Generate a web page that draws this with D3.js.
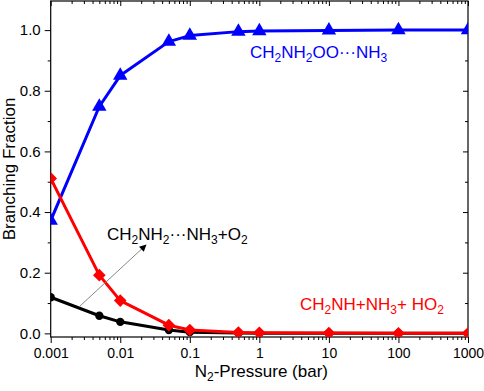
<!DOCTYPE html>
<html>
<head>
<meta charset="utf-8">
<script src="https://cdn.jsdelivr.net/npm/d3@7"></script>
<style>
  html, body { margin: 0; padding: 0; background: #fff; }
  svg { display: block; font-family: "Liberation Sans", Arial, sans-serif; }
</style>
</head>
<body>
<svg id="chart" width="484" height="391"></svg>
<script>
// ---- data ----
const pressures = [0.001, 0.005, 0.01, 0.05, 0.1, 0.5, 1, 10, 100, 1000];
const adductFraction = [0.372, 0.748, 0.850, 0.962, 0.982, 0.995, 0.997, 0.999, 1.0, 1.0];
const imineFraction = [0.511, 0.192, 0.108, 0.027, 0.011, 0.003, 0.002, 0.001, 0.0005, 0.0];
const complexFraction = [0.119, 0.058, 0.038, 0.011, 0.004, 0.001, 0.0005, 0.0, 0.0, 0.0];
const xTickValues = [0.001, 0.01, 0.1, 1, 10, 100, 1000];
const xTickLabels = ["0.001", "0.01", "0.1", "1", "10", "100", "1000"];
const yTickValues = [0.0, 0.2, 0.4, 0.6, 0.8, 1.0];
const yTickLabels = ["0.0", "0.2", "0.4", "0.6", "0.8", "1.0"];

const svg = d3.select("#chart");
const L = 50.7, R = 468, T = 1, B = 337;

const x = d3.scaleLog().domain([0.001, 1000]).range([L, R]);
const y = d3.scaleLinear().domain([-0.012, 1.096]).range([B, T]);

// minor ticks
const xMinor = [];
for (let e = -3; e < 3; e++) for (let k = 2; k <= 9; k++) xMinor.push(k * Math.pow(10, e));
const yMinor = [0.1, 0.3, 0.5, 0.7, 0.9];

const fmtMap = v => xTickLabels[xTickValues.indexOf(v)];
const yFmt = v => yTickLabels[yTickValues.findIndex(t => Math.abs(t - v) < 1e-9)];

function tickOnly(g) { g.selectAll(".tick text").remove(); g.select(".domain").remove(); }

// bottom axis (outward)
svg.append("g").attr("transform", `translate(0,${B})`)
   .call(d3.axisBottom(x).tickValues(xMinor).tickSize(3)).call(tickOnly);
const gBx = svg.append("g").attr("transform", `translate(0,${B})`)
   .call(d3.axisBottom(x).tickValues(xTickValues).tickSize(6).tickPadding(5).tickFormat(fmtMap));
// top axis (inward)
svg.append("g").attr("transform", `translate(0,${T})`)
   .call(d3.axisBottom(x).tickValues(xMinor).tickSize(3)).call(tickOnly);
svg.append("g").attr("transform", `translate(0,${T})`)
   .call(d3.axisBottom(x).tickValues(xTickValues).tickSize(5)).call(tickOnly);
// left axis (outward)
svg.append("g").attr("transform", `translate(${L},0)`)
   .call(d3.axisLeft(y).tickValues(yMinor).tickSize(3)).call(tickOnly);
const gLy = svg.append("g").attr("transform", `translate(${L},0)`)
   .call(d3.axisLeft(y).tickValues(yTickValues).tickSize(6).tickPadding(4).tickFormat(yFmt));
// right axis (inward)
svg.append("g").attr("transform", `translate(${R},0)`)
   .call(d3.axisLeft(y).tickValues(yMinor).tickSize(3)).call(tickOnly);
svg.append("g").attr("transform", `translate(${R},0)`)
   .call(d3.axisLeft(y).tickValues(yTickValues).tickSize(5)).call(tickOnly);

svg.selectAll(".domain").remove();
svg.selectAll(".tick line").attr("stroke", "#000").attr("stroke-width", 1);
svg.selectAll(".tick text").attr("fill", "#000")
   .attr("font-family", "'Liberation Sans', Arial, sans-serif");
gBx.selectAll(".tick text").attr("font-size", 14);
gLy.selectAll(".tick text").attr("font-size", 15);

// frame
svg.append("rect").attr("x", L).attr("y", T).attr("width", R - L).attr("height", B - T)
   .attr("fill", "none").attr("stroke", "#000").attr("stroke-width", 1.2);

// clip
svg.append("clipPath").attr("id", "clip").append("rect")
   .attr("x", L).attr("y", T).attr("width", R - L).attr("height", B - T);
const plot = svg.append("g").attr("clip-path", "url(#clip)");

function series(vals, color, symbolType, size) {
  const pts = pressures.map((p, i) => [p, vals[i]]);
  const line = d3.line().x(d => x(d[0])).y(d => y(d[1]));
  plot.append("path").datum(pts).attr("d", line).attr("fill", "none")
      .attr("stroke", color).attr("stroke-width", 3).attr("stroke-linejoin", "round");
  plot.selectAll(null).data(pts).enter().append("path")
      .attr("d", d3.symbol().type(symbolType).size(size))
      .attr("transform", d => `translate(${x(d[0])},${y(d[1])})` + (symbolType === d3.symbolSquare ? " rotate(45)" : ""))
      .attr("fill", color);
}
series(complexFraction, "#000", d3.symbolCircle, 55);
series(adductFraction, "#0000ff", d3.symbolTriangle, 90);
series(imineFraction, "#ff0000", d3.symbolSquare, 80);

// arrow
const defs = svg.append("defs");
defs.append("marker").attr("id", "ah").attr("viewBox", "0 0 10 10").attr("refX", 9).attr("refY", 5)
    .attr("markerWidth", 9).attr("markerHeight", 7).attr("markerUnits", "userSpaceOnUse")
    .attr("orient", "auto")
    .append("path").attr("d", "M0,0 L10,5 L0,10 z").attr("fill", "#000");
svg.append("line").attr("x1", 80).attr("y1", 306).attr("x2", 146).attr("y2", 245)
   .attr("stroke", "#888").attr("stroke-width", 1).attr("marker-end", "url(#ah)");

// annotations with subscripts
function chem(xp, yp, parts, color, anchor) {
  const t = svg.append("text").attr("x", xp).attr("y", yp).attr("font-size", 17).attr("fill", color)
     .attr("text-anchor", anchor || "start");
  let shift = 0;
  parts.forEach(p => {
    const s = t.append("tspan");
    if (p.sub) {
      s.attr("font-size", 12).attr("dy", 4 - shift).text(p.sub);
      shift = 4;
    } else {
      s.attr("dy", -shift).text(p.t);
      shift = 0;
    }
  });
  return t;
}
chem(250, 58, [{t:"CH"},{sub:"2"},{t:"NH"},{sub:"2"},{t:"OO\u00B7\u00B7\u00B7NH"},{sub:"3"}], "#0000ff");
chem(107, 240, [{t:"CH"},{sub:"2"},{t:"NH"},{sub:"2"},{t:"\u00B7\u00B7\u00B7NH"},{sub:"3"},{t:"+O"},{sub:"2"}], "#000");
chem(300, 310, [{t:"CH"},{sub:"2"},{t:"NH+NH"},{sub:"3"},{t:"+ HO"},{sub:"2"}], "#ff0000");

// axis titles
chem((L + R) / 2 + 2, 377, [{t:"N"},{sub:"2"},{t:"-Pressure (bar)"}], "#000", "middle");

svg.append("text").attr("transform", `translate(15,${(T + B) / 2}) rotate(-90)`)
   .attr("text-anchor", "middle").attr("font-size", 17).attr("fill", "#000").text("Branching Fraction");
</script>
</body>
</html>
